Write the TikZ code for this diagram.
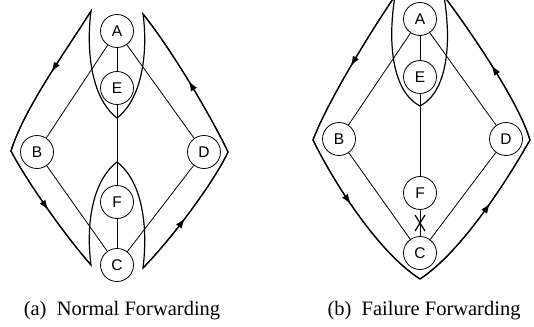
\documentclass[tikz,border=0pt]{standalone}
\usepackage{fontspec}
\setmainfont{Liberation Serif}
\newfontfamily\nodefont{Liberation Sans}
\usetikzlibrary{arrows.meta,decorations.markings}

\tikzset{
  router/.style={circle, draw, line width=0.8pt, fill=white, minimum size=33pt,
    inner sep=0pt, font=\nodefont\fontsize{15.5}{15.5}\selectfont},
  link/.style={line width=0.8pt},
  route/.style={line width=1.2pt, line join=miter},
  flow/.style={route, decoration={markings,
    mark=at position #1 with {\arrow{Latex[length=10pt,width=7pt]}}},
    postaction={decorate}},
  caption/.style={font=\fontsize{20.5}{24}\selectfont, anchor=base},
  cut/.style={line width=1.2pt}
}

\begin{document}
\begin{tikzpicture}[x=1pt, y=-1pt]
\useasboundingbox (0,0) rectangle (534,326);
\clip (0,0) rectangle (534,326);

% ---------- (a) normal forwarding ----------
\node[router] (a-A) at (117,31) {A};
\node[router] (a-E) at (117,88) {E};
\node[router] (a-B) at (37,152) {B};
\node[router] (a-D) at (204,152) {D};
\node[router] (a-F) at (117,202) {F};
\node[router] (a-C) at (117,265) {C};

\draw[link] (a-A) -- (a-E);
\draw[link] (a-E) -- (a-F);
\draw[link] (a-F) -- (a-C);
\draw[link] (a-A) -- (a-B);
\draw[link] (a-B) -- (a-C);
\draw[link] (a-A) -- (a-D);
\draw[link] (a-D) -- (a-C);

\coordinate (a-tl) at (91,11);
\coordinate (a-lc) at (11,151);
\coordinate (a-bl) at (91,265);
\coordinate (a-bt) at (117,162);
\coordinate (a-br) at (143,268);
\coordinate (a-rc) at (228,152);
\coordinate (a-tr) at (143,14);
\coordinate (a-tt) at (117,118);

% closed forwarding loop around both lenses
\draw[route] (a-tl) .. controls (70,45) and (24,108) .. (a-lc)
  .. controls (25,178) and (62,232) .. (a-bl)
  .. controls (86,228) and (91,182) .. (a-bt)
  .. controls (143,182) and (148,228) .. (a-br)
  .. controls (175,235) and (215,180) .. (a-rc)
  .. controls (212,118) and (172,50) .. (a-tr)
  .. controls (148,50) and (143,98) .. (a-tt)
  .. controls (91,98) and (86,50) .. cycle;

% direction marks
\draw[flow=0.45] (a-tl) .. controls (70,45) and (24,108) .. (a-lc);
\draw[flow=0.5] (a-lc) .. controls (25,178) and (62,232) .. (a-bl);
\draw[flow=0.45] (a-br) .. controls (175,235) and (215,180) .. (a-rc);
\draw[flow=0.5] (a-rc) .. controls (212,118) and (172,50) .. (a-tr);

% ---------- (b) failure forwarding ----------
\node[router] (b-A) at (420,19) {A};
\node[router] (b-E) at (420,77) {E};
\node[router] (b-B) at (339,139) {B};
\node[router] (b-D) at (506,139) {D};
\node[router] (b-F) at (420,193) {F};
\node[router] (b-C) at (420,253) {C};

\draw[link] (b-A) -- (b-E);
\draw[link] (b-E) -- (b-F);
\draw[link] (b-F) -- coordinate (b-x) (b-C);
\draw[link] (b-A) -- (b-B);
\draw[link] (b-B) -- (b-C);
\draw[link] (b-A) -- (b-D);
\draw[link] (b-D) -- (b-C);

% failed link F--C
\draw[cut] ([shift={(-5,-8)}]b-x) -- ([shift={(5,8)}]b-x);
\draw[cut] ([shift={(5,-8)}]b-x) -- ([shift={(-5,8)}]b-x);

\coordinate (b-tl) at (395,-4);
\coordinate (b-lc) at (313,140);
\coordinate (b-bt) at (420,279);
\coordinate (b-rc) at (530,140);
\coordinate (b-tr) at (444,-4);
\coordinate (b-tt) at (420,106);

\draw[route] (b-tl) .. controls (375,25) and (328,100) .. (b-lc)
  .. controls (330,175) and (375,250) .. (b-bt)
  .. controls (464,250) and (510,175) .. (b-rc)
  .. controls (518,100) and (468,28) .. (b-tr)
  .. controls (452,45) and (447,92) .. (b-tt)
  .. controls (393,92) and (387,45) .. cycle;

\draw[flow=0.5] (b-tl) .. controls (375,25) and (328,100) .. (b-lc);
\draw[flow=0.42] (b-lc) .. controls (330,175) and (375,250) .. (b-bt);
\draw[flow=0.58] (b-bt) .. controls (464,250) and (510,175) .. (b-rc);
\draw[flow=0.5] (b-rc) .. controls (518,100) and (468,28) .. (b-tr);

% ---------- captions ----------
\node[caption] (cap-a) at (122,315) {(a)\ \ Normal Forwarding};
\node[caption] (cap-b) at (424,315) {(b)\ \ Failure Forwarding};
\end{tikzpicture}
\end{document}
